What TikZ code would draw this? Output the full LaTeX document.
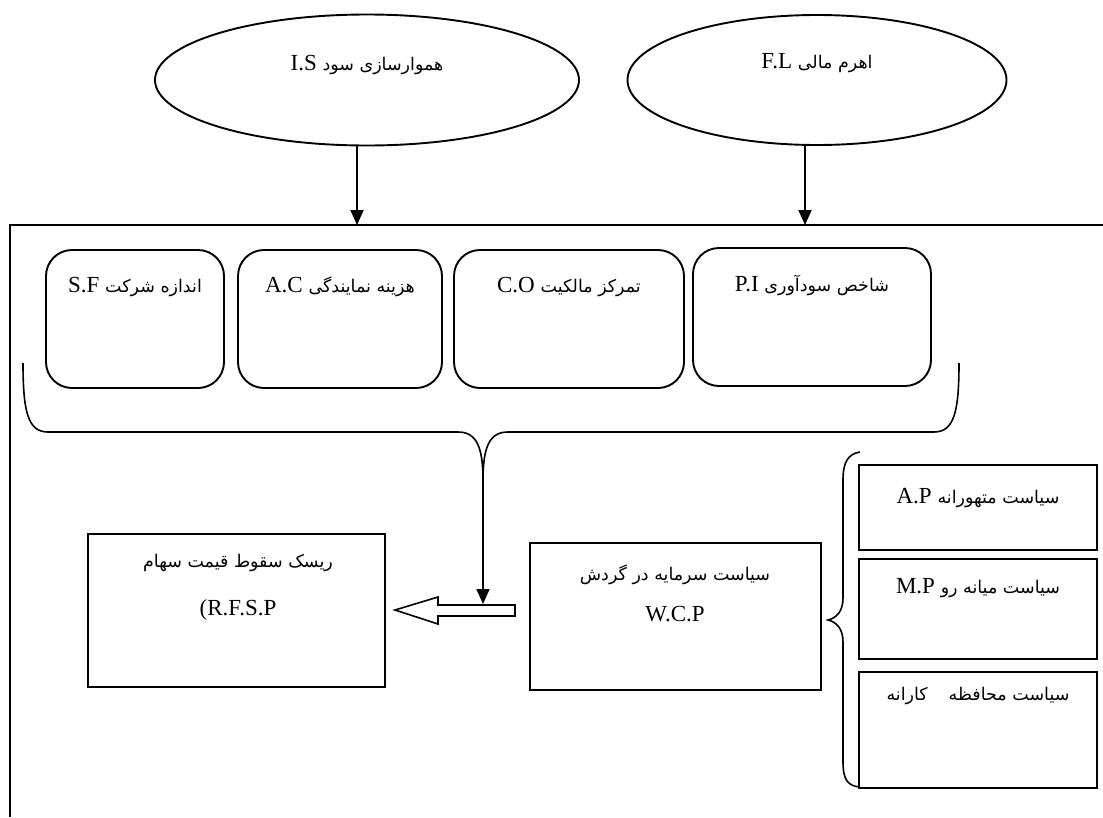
\documentclass[tikz,border=0pt]{standalone}
\usepackage{fontspec}
\setmainfont{Liberation Serif}
\newfontfamily\fa[Script=Arabic,Scale=0.76]{DejaVu Sans}
\TeXXeTstate=1
\usetikzlibrary{shapes.geometric,arrows.meta}
\newcommand\fatext[1]{{\fa\beginR #1\endR}}
\tikzset{
  ln/.style={line width=1.9pt},
  ell/.style={ellipse, draw, ln, inner sep=0pt},
  rbox/.style={draw, ln, rounded corners=26pt, inner sep=0pt, minimum height=138pt},
  sbox/.style={draw, ln, inner sep=0pt},
  txt/.style={inner sep=0pt, anchor=center},
  arr/.style={ln, -{Triangle[length=15pt,width=13pt]}},
  brc/.style={line width=1.6pt},
}
\begin{document}
\begin{tikzpicture}[x=1pt,y=-1pt,font=\fontsize{23pt}{27pt}\selectfont]
\useasboundingbox (0,0) rectangle (1103,817);

% top ellipses
\node[ell, minimum width=424pt, minimum height=131pt] (is) at (367,80) {};
\node[txt] (ist) at (367,65) {I.S \fatext{هموارسازی سود}};
\node[ell, minimum width=379pt, minimum height=130pt] (fl) at (817,80) {};
\node[txt] (flt) at (817,63) {F.L \fatext{اهرم مالی}};

% outer frame
\coordinate (ftop1) at (357,225);
\coordinate (ftop2) at (805,225);
\draw[ln] (10,817) -- (10,225) -- (1103,225);
\draw[arr] (is.south -| ftop1) -- (ftop1);
\draw[arr] (fl.south -| ftop2) -- (ftop2);

% rounded boxes
\node[rbox, minimum width=178pt] (sf) at (135,319) {};
\node[txt] (sft) at (135,287) {S.F \fatext{اندازه شرکت}};
\node[rbox, minimum width=204pt] (ac) at (340,319) {};
\node[txt] (act) at (340,287) {A.C \fatext{هزینه نمایندگی}};
\node[rbox, minimum width=230pt] (co) at (569,319) {};
\node[txt] (cot) at (569,287) {C.O \fatext{تمرکز مالکیت}};
\node[rbox, minimum width=238pt] (pi) at (812,317) {};
\node[txt] (pit) at (812,285) {P.I \fatext{شاخص سودآوری}};

% brace under the boxes
\coordinate (bm) at (483,480);
\draw[brc] (23,363) .. controls (23,412) and (28,432) .. (48,432) -- (458,432)
  .. controls (476,432) and (483,446) .. (bm);
\draw[brc] (959,363) .. controls (959,412) and (954,432) .. (934,432) -- (508,432)
  .. controls (490,432) and (483,446) .. (bm);

% lower boxes
\node[sbox, minimum width=297pt, minimum height=153pt] (rf) at (236.5,610.5) {};
\node[txt] (rft1) at (238,563) {\fatext{ریسک سقوط قیمت سهام}};
\node[txt] (rft2) at (238,610) {(R.F.S.P};
\node[sbox, minimum width=291pt, minimum height=147pt] (wc) at (675.5,616.5) {};
\node[txt] (wct1) at (675,575) {\fatext{سیاست سرمایه در گردش}};
\node[txt] (wct2) at (675,614) {W.C.P};

% hollow arrow from W.C.P to R.F.S.P
\coordinate (hat) at (483,604);
\draw[line width=1.6pt, line join=miter] (395,610) -- (438,597) -- (438,605) -- (515,605)
  -- (515,616) -- (438,616) -- (438,624) -- cycle;
\draw[line width=1.6pt, -{Triangle[length=15pt,width=13pt]}] (bm) -- (hat);

% right brace
\draw[brc] (860,452) .. controls (848,454) and (843,462) .. (843,480) -- (843,598)
  .. controls (843,612) and (836,618) .. (828,620)
  .. controls (836,622) and (843,628) .. (843,642) -- (843,762)
  .. controls (843,780) and (848,786) .. (860,787);

% policy boxes
\node[sbox, minimum width=238pt, minimum height=85pt] (ap) at (978,507.5) {};
\node[txt] (apt) at (978,498) {A.P \fatext{سیاست متهورانه}};
\node[sbox, minimum width=238pt, minimum height=100pt] (mp) at (978,609) {};
\node[txt] (mpt) at (978,588) {M.P \fatext{سیاست میانه رو}};
\node[sbox, minimum width=238pt, minimum height=116pt] (cp) at (978,730) {};
\node[txt] (cpt) at (978,696) {\fatext{سیاست محافظه\hspace{1.2em}کارانه}};
\end{tikzpicture}
\end{document}
